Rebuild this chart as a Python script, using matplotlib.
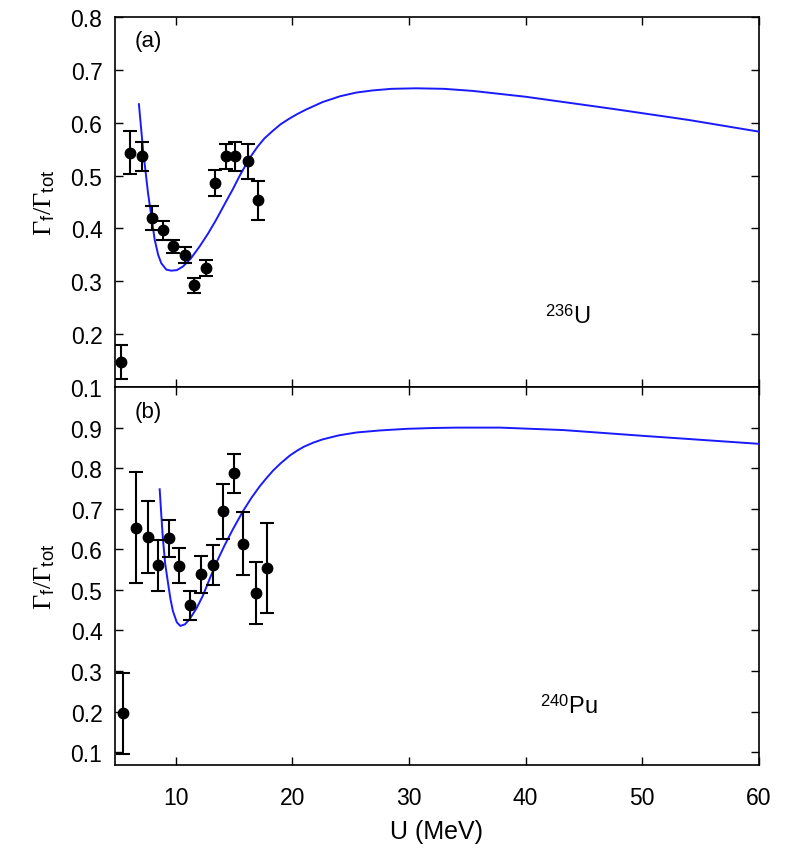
import matplotlib.pyplot as plt

plt.rcParams['font.family'] = ['Liberation Sans', 'DejaVu Sans']
plt.rcParams['mathtext.fontset'] = 'custom'
plt.rcParams['mathtext.rm'] = 'Liberation Serif'
plt.rcParams['mathtext.sf'] = 'Liberation Sans'
plt.rcParams['mathtext.it'] = 'Liberation Serif:italic'

# (a) 236U : measured points
u_a = [5.3, 6.1, 7.1, 8.0, 8.9, 9.8, 10.8, 11.6, 12.6, 13.4, 14.3, 15.1, 16.2, 17.1]
gf_a = [0.147, 0.543, 0.536, 0.420, 0.396, 0.366, 0.349, 0.292, 0.325, 0.486, 0.536, 0.536, 0.527, 0.453]
err_a = [0.032, 0.041, 0.027, 0.023, 0.018, 0.012, 0.015, 0.014, 0.015, 0.024, 0.024, 0.028, 0.033, 0.037]

# (a) model curve
curve_u_a = [6.85, 7.2, 7.63, 8.2, 8.5, 8.77, 9.2, 9.62, 10.1, 10.63, 11.3, 12.06, 12.8, 13.49, 14.2,
             14.9, 15.5, 16.06, 16.5, 17.0, 17.6, 18.35, 19.0, 19.7, 20.4, 21.2, 22.6, 24.1, 25.5,
             26.9, 28.5, 30.6, 33.0, 35.5, 40.0, 47.5, 54.0, 60.0]
curve_gf_a = [0.635, 0.55, 0.467, 0.379, 0.35, 0.334, 0.322, 0.32, 0.321, 0.328, 0.343, 0.366, 0.391,
              0.417, 0.446, 0.474, 0.50, 0.522, 0.538, 0.554, 0.570, 0.585, 0.597, 0.607, 0.616,
              0.625, 0.639, 0.65, 0.657, 0.661, 0.664, 0.665, 0.664, 0.66, 0.649, 0.626, 0.605, 0.583]

# (b) 240Pu : measured points
u_b = [5.5, 6.6, 7.6, 8.5, 9.4, 10.3, 11.2, 12.2, 13.2, 14.1, 15.0, 15.8, 16.9, 17.8]
gf_b = [0.196, 0.653, 0.630, 0.561, 0.627, 0.560, 0.462, 0.538, 0.561, 0.694, 0.787, 0.614, 0.492, 0.554]
err_b = [0.10, 0.137, 0.089, 0.063, 0.045, 0.044, 0.036, 0.046, 0.050, 0.068, 0.047, 0.078, 0.076, 0.110]

# (b) model curve
curve_u_b = [8.63, 8.78, 8.91, 9.1, 9.34, 9.55, 9.77, 10.1, 10.4, 10.8, 11.2, 11.8, 12.34, 12.9,
             13.49, 14.2, 14.9, 15.77, 16.5, 17.2, 17.8, 18.35, 19.0, 19.78, 20.4, 21.0, 21.8,
             22.6, 24.0, 25.5, 27.5, 29.8, 32.0, 34.1, 37.8, 43.2, 50.4, 60.0]
curve_gf_b = [0.748, 0.68, 0.625, 0.565, 0.518, 0.478, 0.447, 0.42, 0.411, 0.415, 0.428, 0.455,
              0.486, 0.526, 0.567, 0.61, 0.649, 0.694, 0.727, 0.755, 0.776, 0.794, 0.812, 0.831,
              0.843, 0.853, 0.863, 0.871, 0.881, 0.888, 0.893, 0.897, 0.899, 0.9, 0.9, 0.894,
              0.879, 0.86]

ylabel = r'$\Gamma_{\mathsf{f}}/\Gamma_{\mathsf{tot}}$'

fig = plt.figure(figsize=(7.86, 8.54), dpi=100)
ax_a = fig.add_axes([0.1463, 0.5457, 0.8193, 0.4333])
ax_b = fig.add_axes([0.1463, 0.1030, 0.8193, 0.4426], sharex=ax_a)

panels = [
    (ax_a, u_a, gf_a, err_a, curve_u_a, curve_gf_a, '(a)', r'$^{\mathsf{236}}$U', (0.1, 0.8),
     [0.1, 0.2, 0.3, 0.4, 0.5, 0.6, 0.7, 0.8], (0.668, 0.16)),
    (ax_b, u_b, gf_b, err_b, curve_u_b, curve_gf_b, '(b)', r'$^{\mathsf{240}}$Pu', (0.068, 1.0),
     [0.1, 0.2, 0.3, 0.4, 0.5, 0.6, 0.7, 0.8, 0.9], (0.66, 0.125)),
]

for ax, u, gf, err, cu, cg, tag, nucl, ylim, yt, npos in panels:
    ax.plot(cu, cg, color='#1a1aff', lw=1.4, zorder=3)
    ax.errorbar(u, gf, yerr=err, fmt='o', color='black', ms=7.5, elinewidth=1.5,
                capsize=5, capthick=1.5, zorder=4)
    ax.set_ylim(*ylim)
    ax.set_yticks(yt)
    ax.set_ylabel(ylabel, fontsize=19, labelpad=10)
    ax.text(0.03, 0.935, tag, transform=ax.transAxes, fontsize=16, va='center')
    ax.text(npos[0], npos[1], nucl, transform=ax.transAxes, fontsize=17, va='bottom')
    ax.tick_params(direction='in', top=True, right=True, length=6, width=1, labelsize=16.5)
    ax.tick_params(axis='y', pad=9)
    for s in ax.spines.values():
        s.set_linewidth(1.2)

ax_a.set_xlim(4.8, 60)
ax_b.set_xticks([10, 20, 30, 40, 50, 60])
ax_a.tick_params(labelbottom=False)
ax_b.tick_params(axis='x', pad=15)
ax_b.set_xlabel('U (MeV)', fontsize=18, labelpad=7)

plt.savefig('out.png', dpi=100)
